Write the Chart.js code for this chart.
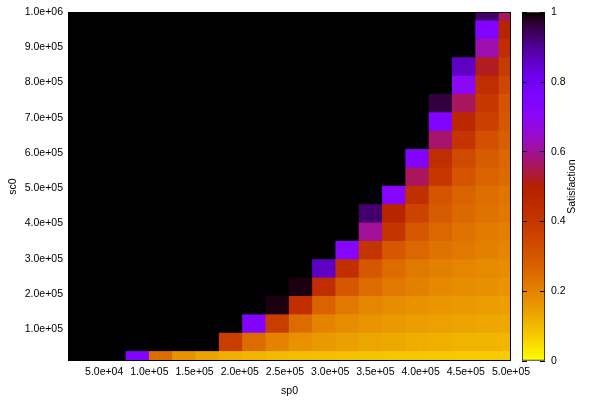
<!DOCTYPE html>
<html lang="en">
<head>
  <meta charset="utf-8">
  <title>Satisfaction map - sp0 vs sc0</title>
  <script src="https://cdn.jsdelivr.net/npm/chart.js"></script>
  <style>
    body { margin: 0; background: #fff; }
    #wrap { position: relative; width: 600px; height: 400px; }
    #heat { position: absolute; left: 0; top: 0; }
    #cbar { position: absolute; left: 511px; top: 0; }
  </style>
</head>
<body>
<div id="wrap">
  <canvas id="heat" width="600" height="400"></canvas>
  <canvas id="cbar" width="89" height="400"></canvas>
</div>

<script>
  // grid of the sweep (cell centres)
  const sp0 = [10000, 35789, 61579, 87368, 113158, 138947, 164737, 190526, 216316, 242105,
               267895, 293684, 319474, 345263, 371053, 396842, 422632, 448421, 474211, 500000];
  const sc0 = [10000, 62105, 114211, 166316, 218421, 270526, 322632, 374737, 426842, 478947,
               531053, 583158, 635263, 687368, 739474, 791579, 843684, 895789, 947895, 1000000];

  // satisfaction, one row per sc0 value (bottom row first), one entry per sp0 value
  const satisfaction = [
    [1, 1, 1, 0.74, 0.25, 0.17, 0.14, 0.12, 0.11, 0.10, 0.095, 0.09, 0.087, 0.084, 0.081, 0.079, 0.077, 0.075, 0.073, 0.071],
    [1, 1, 1, 1, 1, 1, 1, 0.38, 0.25, 0.20, 0.17, 0.155, 0.145, 0.135, 0.128, 0.122, 0.117, 0.112, 0.108, 0.105],
    [1, 1, 1, 1, 1, 1, 1, 1, 0.74, 0.38, 0.25, 0.20, 0.18, 0.165, 0.155, 0.148, 0.142, 0.137, 0.132, 0.128],
    [1, 1, 1, 1, 1, 1, 1, 1, 1, 0.99, 0.43, 0.27, 0.22, 0.195, 0.18, 0.17, 0.162, 0.155, 0.15, 0.145],
    [1, 1, 1, 1, 1, 1, 1, 1, 1, 1, 0.99, 0.44, 0.30, 0.25, 0.22, 0.205, 0.19, 0.18, 0.172, 0.165],
    [1, 1, 1, 1, 1, 1, 1, 1, 1, 1, 1, 0.86, 0.43, 0.30, 0.25, 0.22, 0.205, 0.195, 0.185, 0.177],
    [1, 1, 1, 1, 1, 1, 1, 1, 1, 1, 1, 1, 0.73, 0.41, 0.30, 0.26, 0.235, 0.22, 0.205, 0.195],
    [1, 1, 1, 1, 1, 1, 1, 1, 1, 1, 1, 1, 1, 0.60, 0.41, 0.30, 0.26, 0.235, 0.215, 0.205],
    [1, 1, 1, 1, 1, 1, 1, 1, 1, 1, 1, 1, 1, 0.93, 0.48, 0.36, 0.29, 0.255, 0.235, 0.22],
    [1, 1, 1, 1, 1, 1, 1, 1, 1, 1, 1, 1, 1, 1, 0.73, 0.43, 0.31, 0.27, 0.245, 0.23],
    [1, 1, 1, 1, 1, 1, 1, 1, 1, 1, 1, 1, 1, 1, 1, 0.56, 0.40, 0.31, 0.27, 0.25],
    [1, 1, 1, 1, 1, 1, 1, 1, 1, 1, 1, 1, 1, 1, 1, 0.74, 0.44, 0.34, 0.29, 0.26],
    [1, 1, 1, 1, 1, 1, 1, 1, 1, 1, 1, 1, 1, 1, 1, 1, 0.57, 0.41, 0.32, 0.28],
    [1, 1, 1, 1, 1, 1, 1, 1, 1, 1, 1, 1, 1, 1, 1, 1, 0.74, 0.46, 0.37, 0.30],
    [1, 1, 1, 1, 1, 1, 1, 1, 1, 1, 1, 1, 1, 1, 1, 1, 0.96, 0.56, 0.40, 0.31],
    [1, 1, 1, 1, 1, 1, 1, 1, 1, 1, 1, 1, 1, 1, 1, 1, 1, 0.70, 0.44, 0.35],
    [1, 1, 1, 1, 1, 1, 1, 1, 1, 1, 1, 1, 1, 1, 1, 1, 1, 0.86, 0.52, 0.39],
    [1, 1, 1, 1, 1, 1, 1, 1, 1, 1, 1, 1, 1, 1, 1, 1, 1, 1, 0.62, 0.44],
    [1, 1, 1, 1, 1, 1, 1, 1, 1, 1, 1, 1, 1, 1, 1, 1, 1, 1, 0.74, 0.48],
    [1, 1, 1, 1, 1, 1, 1, 1, 1, 1, 1, 1, 1, 1, 1, 1, 1, 1, 0.93, 0.56]
  ];

  const xTickValues = [50000, 100000, 150000, 200000, 250000, 300000, 350000, 400000, 450000, 500000];
  const xTickLabels = ['5.0e+04', '1.0e+05', '1.5e+05', '2.0e+05', '2.5e+05',
                       '3.0e+05', '3.5e+05', '4.0e+05', '4.5e+05', '5.0e+05'];
  const yTickValues = [100000, 200000, 300000, 400000, 500000, 600000, 700000, 800000, 900000, 1000000];
  const yTickLabels = ['1.0e+05', '2.0e+05', '3.0e+05', '4.0e+05', '5.0e+05',
                       '6.0e+05', '7.0e+05', '8.0e+05', '9.0e+05', '1.0e+06'];
  const cbTickValues = [0, 0.2, 0.4, 0.6, 0.8, 1];
  const cbTickLabels = ['0', '0.2', '0.4', '0.6', '0.8', '1'];

  // gnuplot rgbformulae 7,5,15, reversed (0 = yellow, 1 = black)
  function palette(v) {
    const x = Math.min(1, Math.max(0, 1 - v));
    const r = Math.sqrt(x);
    const g = x * x * x;
    const b = Math.max(0, Math.sin(2 * Math.PI * x));
    return 'rgb(' + Math.round(r * 255) + ',' + Math.round(g * 255) + ',' + Math.round(b * 255) + ')';
  }

  Chart.defaults.font.family = '"Liberation Sans", Arial, sans-serif';
  Chart.defaults.font.size = 10.5;
  Chart.defaults.color = '#000';

  const frame = {
    id: 'frame',
    afterDatasetsDraw(chart) {
      const {ctx, chartArea: a} = chart;
      ctx.save();
      ctx.strokeStyle = '#000';
      ctx.lineWidth = 1;
      ctx.strokeRect(a.left + 0.5, a.top + 0.5, a.right - a.left - 1, a.bottom - a.top - 1);
      ctx.restore();
    }
  };

  const halfY = (sc0[1] - sc0[0]) / 2;

  new Chart(document.getElementById('heat'), {
    type: 'bar',
    data: {
      datasets: satisfaction.map((row, j) => ({
        label: 'sc0 ' + sc0[j],
        data: sp0.map(x => ({x: x, y: [sc0[j] - halfY, sc0[j] + halfY]})),
        backgroundColor: row.map(palette),
        borderWidth: 0,
        inflateAmount: 0.7,
        grouped: false,
        barPercentage: 1,
        categoryPercentage: 1,
        clip: 0
      }))
    },
    options: {
      responsive: false,
      animation: false,
      layout: { padding: { left: 0, top: 12, right: 89, bottom: 0 } },
      plugins: { legend: { display: false }, tooltip: { enabled: false } },
      scales: {
        x: {
          type: 'linear',
          min: 10000,
          max: 500000,
          offset: false,
          grid: { display: false, drawTicks: false, offset: false },
          border: { display: false },
          afterBuildTicks: s => { s.ticks = xTickValues.map(v => ({value: v})); },
          afterFit: s => { s.height = 39; },
          ticks: {
            autoSkip: false,
            maxRotation: 0,
            padding: 5,
            callback: (v, i) => xTickLabels[i]
          },
          title: { display: true, text: 'sp0', padding: { top: 0, bottom: 3 } }
        },
        y: {
          type: 'linear',
          min: 10000,
          max: 1000000,
          grid: { display: false, drawTicks: false },
          border: { display: false },
          afterBuildTicks: s => { s.ticks = yTickValues.map(v => ({value: v})); },
          afterFit: s => { s.width = 68; },
          ticks: {
            autoSkip: false,
            padding: 5,
            callback: (v, i) => yTickLabels[i]
          },
          title: { display: true, text: 'sc0', padding: { top: 7, bottom: 0 } }
        }
      }
    },
    plugins: [frame]
  });

  const cbTitle = {
    id: 'cbTitle',
    afterDraw(chart) {
      const {ctx, chartArea: a} = chart;
      ctx.save();
      ctx.translate(61, (a.top + a.bottom) / 2);
      ctx.rotate(-Math.PI / 2);
      ctx.font = '10.5px "Liberation Sans", Arial, sans-serif';
      ctx.fillStyle = '#000';
      ctx.textAlign = 'center';
      ctx.textBaseline = 'middle';
      ctx.fillText('Satisfaction', 0, 0);
      ctx.restore();
    }
  };

  new Chart(document.getElementById('cbar'), {
    type: 'bar',
    data: {
      labels: ['Satisfaction'],
      datasets: [{
        data: [[0, 1]],
        backgroundColor: c => {
          const a = c.chart.chartArea;
          if (!a) return null;
          const g = c.chart.ctx.createLinearGradient(0, a.bottom, 0, a.top);
          for (let k = 0; k <= 50; k++) g.addColorStop(k / 50, palette(k / 50));
          return g;
        },
        borderColor: '#000',
        borderWidth: 1,
        borderSkipped: false,
        barPercentage: 1,
        categoryPercentage: 1
      }]
    },
    options: {
      responsive: false,
      animation: false,
      layout: { padding: { left: 11, top: 12, right: 0, bottom: 39 } },
      plugins: { legend: { display: false }, tooltip: { enabled: false } },
      scales: {
        x: { display: false },
        y: {
          position: 'right',
          min: 0,
          max: 1,
          grid: { color: '#000', drawTicks: false, z: 1 },
          border: { display: false, dash: [5, 13] },
          afterBuildTicks: s => { s.ticks = cbTickValues.map(v => ({value: v})); },
          afterFit: s => { s.width = 55; },
          ticks: { padding: 6, callback: (v, i) => cbTickLabels[i] }
        }
      }
    },
    plugins: [cbTitle]
  });
</script>
</body>
</html>
